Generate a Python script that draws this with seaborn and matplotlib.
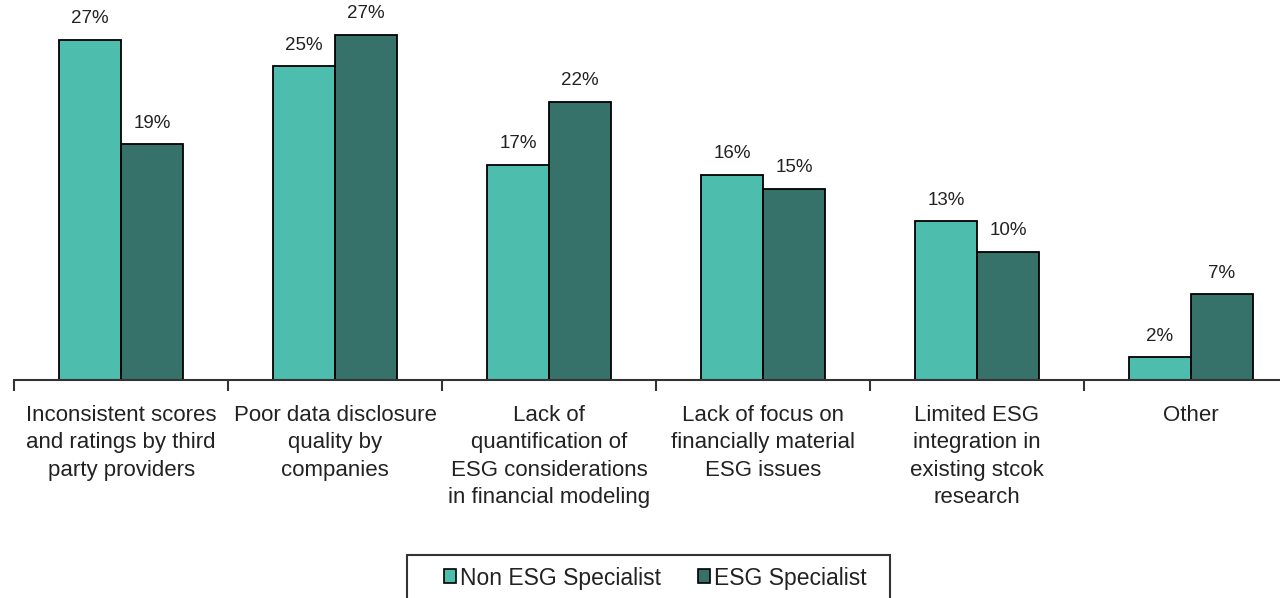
import pandas as pd
import matplotlib.pyplot as plt
import seaborn as sns
from matplotlib.patches import Patch, Rectangle

# Data (labels show the rounded values)
categories = [
    "Inconsistent scores\nand ratings by third\nparty providers",
    "Poor data disclosure\nquality by\ncompanies",
    "Lack of\nquantification of\nESG considerations\nin financial modeling",
    "Lack of focus on\nfinancially material\nESG issues",
    "Limited ESG\nintegration in\nexisting stcok\nresearch",
    "Other",
]
non_esg = [27.0, 24.9, 17.1, 16.3, 12.6, 1.8]
esg = [18.7, 27.4, 22.1, 15.2, 10.2, 6.8]
groups = ["Non ESG Specialist", "ESG Specialist"]
colors = ["#4DBDAD", "#37726A"]

df = pd.DataFrame({
    "category": categories * 2,
    "value": non_esg + esg,
    "group": [groups[0]] * len(categories) + [groups[1]] * len(categories),
})

sns.set_style("white")
plt.rcParams["font.family"] = ["Liberation Sans", "DejaVu Sans"]

fig = plt.figure(figsize=(12.8, 5.98), dpi=100)
ax = fig.add_axes([0.011, 0.3645, 1.003, 0.632])

sns.barplot(data=df, x="category", y="value", hue="group", palette=colors,
            saturation=1, edgecolor="black", linewidth=1.3, width=0.58,
            ax=ax, legend=False)

for cont in ax.containers:
    ax.bar_label(cont, fmt="%.0f%%", padding=9, fontsize=13.5, color="#222222")

ax.set_ylim(0, 30)
ax.set_xlim(-0.5, 5.5)
ax.set_xlabel("")
ax.set_ylabel("")
ax.set_yticks([])
for s in ["left", "right", "top"]:
    ax.spines[s].set_visible(False)
ax.spines["bottom"].set_color("#333333")
ax.spines["bottom"].set_linewidth(1.5)

ax.tick_params(axis="x", which="major", length=0, pad=18, labelsize=16, labelcolor="#222222")
for lbl in ax.get_xticklabels():
    lbl.set_linespacing(1.4)
ax.set_xticks([i - 0.5 for i in range(len(categories) + 1)], minor=True)
ax.tick_params(axis="x", which="minor", bottom=True, length=8, width=1.5,
               color="#333333", direction="out")

# legend box runs off the bottom of the figure, as in the original
fig.patches.append(Rectangle((407 / 1280, -0.05), 483 / 1280, (598 - 555) / 598 + 0.05,
                             transform=fig.transFigure, fill=False,
                             edgecolor="#333333", linewidth=1.5))
handles = [Patch(facecolor=c, edgecolor="black", linewidth=1.2) for c in colors]
leg = fig.legend(handles, groups, loc="center", bbox_to_anchor=(655 / 1280, 1 - 578 / 598),
                 ncol=2, fontsize=16.5, frameon=False, handlelength=0.55,
                 handleheight=0.55, handletextpad=0.15, columnspacing=1.6,
                 borderpad=0, borderaxespad=0)
for t in leg.get_texts():
    t.set_color("#222222")

fig.savefig("out.png", dpi=100)
